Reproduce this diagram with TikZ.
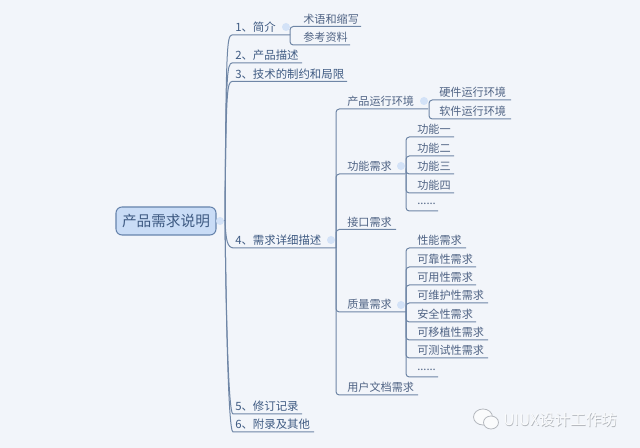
\documentclass[tikz,border=0pt]{standalone}
\usepackage{fontspec}
\setmainfont{Noto Sans CJK SC}
\definecolor{bgc}{HTML}{F2F5FA}
\definecolor{linec}{HTML}{6F86A6}
\definecolor{rootf}{HTML}{C9DCF6}
\definecolor{rootd}{HTML}{6683AC}
\definecolor{textc}{HTML}{4F6384}
\definecolor{texta}{HTML}{3E5A82}
\definecolor{dotc}{HTML}{D3E2F7}
\definecolor{markc}{HTML}{FAFBFC}
\definecolor{markd}{HTML}{B4B8BE}
\tikzset{
  x=0.75pt,y=-0.75pt,
  conn/.style={draw=linec,line width=0.75pt,rounded corners=2.5pt},
  trunk/.style={draw=linec,line width=0.75pt},
  lone/.style={anchor=west,inner sep=0pt,text=texta,font=\fontsize{8.55pt}{10pt}\selectfont},
  ltwo/.style={anchor=west,inner sep=0pt,text=textc,font=\fontsize{8.35pt}{10pt}\selectfont},
  rootn/.style={draw=rootd,fill=rootf,line width=0.8pt,rounded corners=4.5pt,minimum width=75pt,minimum height=21pt,inner sep=0pt,text=texta,font=\fontsize{11pt}{13pt}\selectfont},
  dotn/.style={circle,fill=dotc,minimum size=6pt,inner sep=0pt},
  markn/.style={anchor=west,inner sep=0pt,text=markc,font=\fontsize{11.7pt}{13pt}\selectfont},
}
% name, text x, end x, underline y, text, style
\newcommand{\topic}[6]{%
  \node[#6] (#1) at (#2,#4-7.5) {#5};
  \coordinate (#1-e) at (#3,#4);
}
% level one branch with curved start
\newcommand{\limb}[2]{%
  \draw[trunk] (hubr) .. controls (226,#2+8) and (227,#2+1) .. (232,#2) -- (#1-e);
}
\begin{document}
\begin{tikzpicture}
\useasboundingbox (0,0) rectangle (640,448);
\fill[bgc] (0,0) rectangle (640,448);
\node[rootn] (root) at (166,221) {产品需求说明};
\coordinate (hubr) at (225,221);
\draw[trunk] (root.east) -- (hubr);
% level one
\topic{a}{235}{290}{35}{1、简介}{lone}
\topic{b}{235}{302}{63}{2、产品描述}{lone}
\topic{c}{235}{347}{81.5}{3、技术的制约和局限}{lone}
\topic{d}{235}{336}{248}{4、需求详细描述}{lone}
\topic{f}{235}{302}{414}{5、修订记录}{lone}
\topic{g}{235}{314}{432}{6、附录及其他}{lone}
\limb{a}{35}\limb{b}{63}\limb{c}{81.5}
\draw[trunk] (hubr) .. controls (226,240) and (227,248) .. (234,248) -- (d-e);
\draw[trunk] (hubr) .. controls (226,300) and (228,414) .. (233,414) -- (f-e);
\draw[trunk] (hubr) .. controls (226,300) and (228,432) .. (233,432) -- (g-e);
% section 1
\coordinate (hub1) at (290,35);
\topic{a1}{303}{361}{26.5}{术语和缩写}{ltwo}
\topic{a2}{303}{350}{45}{参考资料}{ltwo}
\draw[conn] (hub1) |- (a1-e);
\draw[conn] (hub1) |- (a2-e);
% section 4
\coordinate (hub4) at (336,248);
\topic{p}{347}{428}{109}{产品运行环境}{ltwo}
\topic{q}{347}{405}{174}{功能需求}{ltwo}
\topic{r}{347}{396}{229.5}{接口需求}{ltwo}
\topic{s}{347}{406}{312}{质量需求}{ltwo}
\topic{t}{347}{418}{395}{用户文档需求}{ltwo}
\foreach \n in {p,q,r,s,t}{\draw[conn] (hub4) |- (\n-e);}
% environment
\coordinate (hubp) at (429,109);
\topic{p1}{439}{511}{100}{硬件运行环境}{ltwo}
\topic{p2}{439}{511}{119}{软件运行环境}{ltwo}
\draw[conn] (hubp) |- (p1-e);
\draw[conn] (hubp) |- (p2-e);
% functions
\coordinate (hubq) at (406,174);
\topic{q1}{417}{454}{137}{功能一}{ltwo}
\topic{q2}{417}{454}{156}{功能二}{ltwo}
\topic{q3}{417}{454}{174}{功能三}{ltwo}
\topic{q4}{417}{454}{193}{功能四}{ltwo}
\topic{q5}{417}{438}{211}{......}{ltwo}
\foreach \n in {q1,q2,q3,q4,q5}{\draw[conn] (hubq) |- (\n-e);}
% quality
\coordinate (hubs) at (406,312);
\topic{s1}{417}{466}{248}{性能需求}{ltwo}
\topic{s2}{417}{476}{267}{可靠性需求}{ltwo}
\topic{s3}{417}{476}{285}{可用性需求}{ltwo}
\topic{s4}{417}{488}{303}{可维护性需求}{ltwo}
\topic{s5}{417}{476}{322}{安全性需求}{ltwo}
\topic{s6}{417}{488}{340}{可移植性需求}{ltwo}
\topic{s7}{417}{488}{358}{可测试性需求}{ltwo}
\topic{s8}{417}{438}{377}{......}{ltwo}
\foreach \n in {s1,s2,s3,s4,s5,s6,s7,s8}{\draw[conn] (hubs) |- (\n-e);}
% collapse markers
\node[dotn] (da) at (286,27) {};
\node[dotn] (dd) at (331,240) {};
\node[dotn] (dp) at (424,101) {};
\node[dotn] (dq) at (401,166) {};
\node[dotn] (ds) at (401,305) {};
\node[dotn] (dr) at (220,221) {};
% watermark
\begin{scope}[draw=markd,fill=markc,line width=0.6pt]
\filldraw (483,417) ellipse [x radius=9.5,y radius=8];
\filldraw (491,422.5) ellipse [x radius=7.5,y radius=6.5];
\end{scope}
\node[markn,text=markd] (wms) at (503.6,420.6) {UIUX设计工作坊};
\node[markn] (wm) at (503,420) {UIUX设计工作坊};
\end{tikzpicture}
\end{document}
